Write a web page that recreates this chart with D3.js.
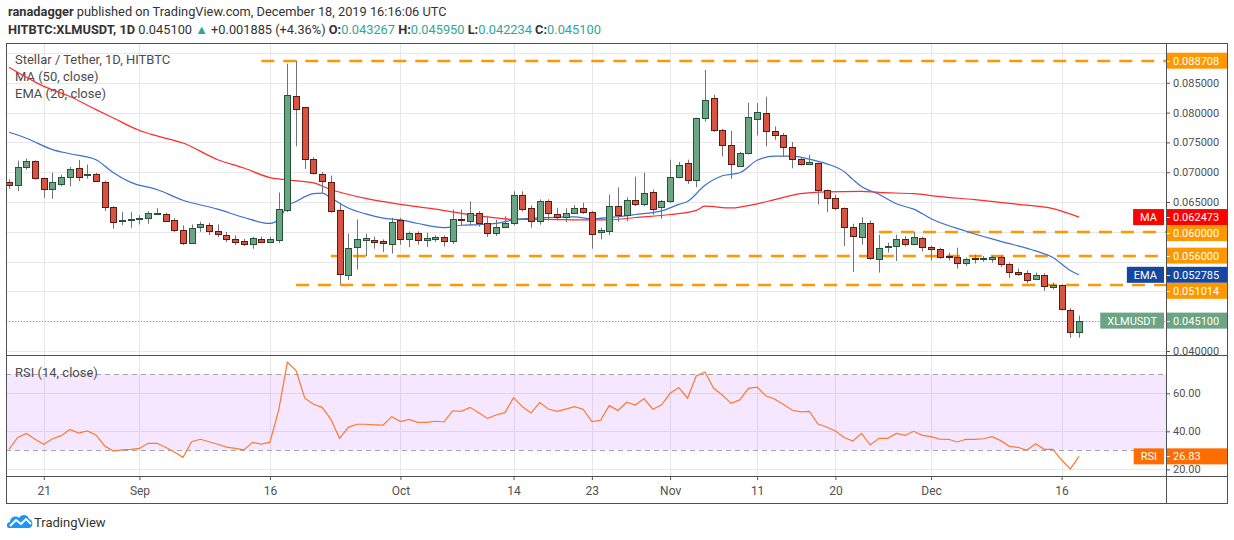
<!DOCTYPE html>
<html>
<head>
<meta charset="utf-8">
<script src="https://cdn.jsdelivr.net/npm/d3@7"></script>
<style>
  body { margin: 0; background: #fff; }
  svg { display: block; font-family: Roboto, "Liberation Sans", sans-serif; }
</style>
</head>
<body>
<div id="chart"></div>
<script>
'use strict';

// daily candles, one per day starting here
var firstDay = "2019-08-17";

var priceOpen = [0.06840, 0.06788, 0.07089, 0.07189, 0.06900, 0.06721, 0.06804, 0.06921, 0.07065, 0.06960,
  0.06972, 0.06838, 0.06420, 0.06190, 0.06210, 0.06210, 0.06236, 0.06310, 0.06303, 0.06203,
  0.06036, 0.05818, 0.06069, 0.06112, 0.06018, 0.05951, 0.05884, 0.05840, 0.05795, 0.05884,
  0.05834, 0.05858, 0.06370, 0.08281, 0.08095, 0.07222, 0.06972, 0.06838, 0.06363, 0.05288,
  0.05734, 0.05851, 0.05868, 0.05840, 0.05801, 0.06203, 0.05885, 0.05985, 0.05862, 0.05868,
  0.05918, 0.05851, 0.06216, 0.06186, 0.06320, 0.06152, 0.05985, 0.06085, 0.06152, 0.06620,
  0.06403, 0.06191, 0.06520, 0.06303, 0.06253, 0.06320, 0.06403, 0.06336, 0.05985, 0.06018,
  0.06441, 0.06286, 0.06537, 0.06470, 0.06671, 0.06420, 0.06513, 0.06921, 0.07156, 0.06871,
  0.07908, 0.08242, 0.07707, 0.07456, 0.07099, 0.07316, 0.07891, 0.07991, 0.07691, 0.07624,
  0.07423, 0.07222, 0.07139, 0.07156, 0.06704, 0.06570, 0.06403, 0.06085, 0.05918, 0.06152,
  0.05550, 0.05734, 0.05756, 0.05885, 0.05801, 0.05901, 0.05751, 0.05717, 0.05590, 0.05584,
  0.05483, 0.05560, 0.05550, 0.05550, 0.05584, 0.05467, 0.05333, 0.05316, 0.05216, 0.05283,
  0.05082, 0.05115, 0.04689, 0.043267];

var priceHigh = [0.06880, 0.07194, 0.07227, 0.07200, 0.06910, 0.06993, 0.06960, 0.07089, 0.07206, 0.07127,
  0.06990, 0.06860, 0.06430, 0.06336, 0.06330, 0.06279, 0.06346, 0.06396, 0.06320, 0.06230,
  0.06107, 0.06124, 0.06170, 0.06150, 0.06124, 0.06000, 0.05940, 0.05880, 0.05918, 0.05920,
  0.05918, 0.06659, 0.08820, 0.08871, 0.08095, 0.07250, 0.07005, 0.06943, 0.06487, 0.05970,
  0.06207, 0.05970, 0.05918, 0.05873, 0.06236, 0.06236, 0.06007, 0.06007, 0.05985, 0.05940,
  0.05940, 0.06375, 0.06375, 0.06510, 0.06347, 0.06250, 0.06200, 0.06260, 0.06680, 0.06680,
  0.06442, 0.06545, 0.06545, 0.06403, 0.06396, 0.06447, 0.06487, 0.06350, 0.06070, 0.06625,
  0.06747, 0.06580, 0.06926, 0.06993, 0.06709, 0.06533, 0.07211, 0.07172, 0.07211, 0.07915,
  0.08716, 0.08298, 0.07729, 0.07696, 0.07344, 0.08164, 0.08159, 0.08269, 0.07768, 0.07657,
  0.07507, 0.07249, 0.07294, 0.07160, 0.06710, 0.06620, 0.06410, 0.06135, 0.06246, 0.06191,
  0.05951, 0.05818, 0.05951, 0.05928, 0.06002, 0.05918, 0.05768, 0.05734, 0.05650, 0.05734,
  0.05567, 0.05617, 0.05594, 0.05600, 0.05600, 0.05483, 0.05383, 0.05353, 0.05316, 0.05304,
  0.05149, 0.05120, 0.04716, 0.045950];

var priceLow = [0.06720, 0.06681, 0.07043, 0.06876, 0.06570, 0.06553, 0.06764, 0.06764, 0.06848, 0.06893,
  0.06850, 0.06346, 0.06052, 0.06112, 0.06068, 0.06124, 0.06135, 0.06300, 0.06170, 0.05995,
  0.05778, 0.05802, 0.06000, 0.05945, 0.05911, 0.05828, 0.05778, 0.05762, 0.05715, 0.05810,
  0.05810, 0.05810, 0.06330, 0.07433, 0.07055, 0.06960, 0.06654, 0.06320, 0.05120, 0.05192,
  0.05366, 0.05594, 0.05717, 0.05660, 0.05634, 0.05784, 0.05744, 0.05784, 0.05744, 0.05830,
  0.05751, 0.05795, 0.06107, 0.06107, 0.06085, 0.05911, 0.05930, 0.06062, 0.06107, 0.06341,
  0.06069, 0.06119, 0.06191, 0.06191, 0.06162, 0.06313, 0.06300, 0.05717, 0.05873, 0.05945,
  0.06169, 0.06179, 0.06430, 0.06430, 0.06286, 0.06219, 0.06487, 0.06898, 0.06804, 0.06747,
  0.07851, 0.07674, 0.07266, 0.06888, 0.07090, 0.07299, 0.07617, 0.07433, 0.07545, 0.07266,
  0.07065, 0.07110, 0.07120, 0.06458, 0.06329, 0.06363, 0.05761, 0.05326, 0.05784, 0.05527,
  0.05316, 0.05651, 0.05510, 0.05751, 0.05773, 0.05667, 0.05517, 0.05550, 0.05517, 0.05383,
  0.05427, 0.05467, 0.05500, 0.05483, 0.05410, 0.05226, 0.05260, 0.05137, 0.05192, 0.05008,
  0.05032, 0.04682, 0.04221, 0.042234];

var priceClose = [0.06790, 0.07089, 0.07189, 0.06905, 0.06721, 0.06838, 0.06921, 0.07055, 0.06921, 0.06975,
  0.06855, 0.06420, 0.06169, 0.06205, 0.06222, 0.06230, 0.06313, 0.06320, 0.06186, 0.06036,
  0.05818, 0.06069, 0.06124, 0.06012, 0.05968, 0.05884, 0.05828, 0.05790, 0.05895, 0.05828,
  0.05878, 0.06386, 0.08298, 0.08069, 0.07222, 0.06988, 0.06860, 0.06346, 0.05288, 0.05734,
  0.05873, 0.05890, 0.05834, 0.05801, 0.06169, 0.05885, 0.05985, 0.05868, 0.05890, 0.05907,
  0.05851, 0.06220, 0.06196, 0.06320, 0.06152, 0.05985, 0.06085, 0.06152, 0.06620, 0.06386,
  0.06191, 0.06520, 0.06320, 0.06253, 0.06320, 0.06403, 0.06336, 0.05968, 0.06024, 0.06441,
  0.06286, 0.06537, 0.06463, 0.06654, 0.06386, 0.06520, 0.06921, 0.07122, 0.06871, 0.07908,
  0.08209, 0.07707, 0.07456, 0.07139, 0.07323, 0.07925, 0.08008, 0.07684, 0.07617, 0.07423,
  0.07222, 0.07139, 0.07172, 0.06704, 0.06570, 0.06403, 0.06085, 0.05935, 0.06152, 0.05567,
  0.05734, 0.05756, 0.05873, 0.05801, 0.05918, 0.05751, 0.05717, 0.05584, 0.05584, 0.05483,
  0.05550, 0.05545, 0.05556, 0.05584, 0.05467, 0.05333, 0.05299, 0.05199, 0.05283, 0.05099,
  0.05115, 0.04714, 0.04321, 0.045100];

// MA(50) and EMA(20) at these candle numbers
var maDay = [0, 4, 7, 10, 12, 15, 17, 20, 24, 27, 30, 32, 35, 37, 41, 45, 49, 52, 55, 58, 62, 66, 69, 72,
  76, 79, 80, 83, 86, 88, 91, 94, 98, 100, 104, 107, 111, 116, 120, 123];
var maValue = [0.0876, 0.0844, 0.0827, 0.0805, 0.0791, 0.0770, 0.0761, 0.0749, 0.0721, 0.0707, 0.0691,
  0.0687, 0.0682, 0.0671, 0.0656, 0.0646, 0.0638, 0.0631, 0.0625, 0.0621, 0.0621, 0.0620, 0.0620,
  0.0624, 0.0629, 0.0636, 0.0643, 0.0640, 0.0647, 0.0654, 0.0664, 0.0667, 0.0668, 0.0666, 0.0664,
  0.0659, 0.0654, 0.0646, 0.0639, 0.062473];

var emaDay = [0, 2, 5, 7, 10, 12, 14, 17, 20, 24, 27, 30, 31, 32, 33, 35, 36, 37, 39, 41, 43, 45, 47, 50,
  52, 54, 56, 58, 62, 65, 67, 69, 72, 75, 77, 78, 80, 82, 84, 86, 88, 90, 92, 94, 96, 97, 98, 100,
  102, 104, 106, 110, 114, 118, 120, 122, 123];
var emaValue = [0.0767, 0.0757, 0.0738, 0.0731, 0.0721, 0.0699, 0.0683, 0.0671, 0.0653, 0.0638, 0.0624,
  0.0614, 0.0621, 0.0643, 0.0651, 0.0664, 0.0665, 0.0657, 0.0640, 0.0630, 0.0623, 0.0620, 0.0614,
  0.0607, 0.0611, 0.0612, 0.0614, 0.0620, 0.0624, 0.0625, 0.0622, 0.0624, 0.0629, 0.0635, 0.0646,
  0.0651, 0.0678, 0.0694, 0.0699, 0.0720, 0.0727, 0.0727, 0.0722, 0.0714, 0.0701, 0.0688, 0.0676,
  0.0663, 0.0647, 0.0638, 0.0622, 0.0601, 0.0584, 0.0568, 0.0557, 0.0535, 0.052785];

var rsiValue = [30.5, 36.8, 38.9, 35.8, 33.2, 36.1, 37.7, 41.0, 39.1, 40.2,
  38.1, 32.3, 29.6, 30.2, 30.5, 31.0, 33.7, 33.7, 31.6, 29.1,
  26.3, 34.5, 35.8, 34.5, 33.2, 31.7, 31.0, 30.2, 34.2, 33.3,
  34.3, 51.2, 76.3, 71.9, 57.4, 54.2, 52.6, 46.3, 36.3, 42.1,
  43.7, 43.7, 43.4, 43.2, 47.7, 45.1, 46.3, 44.7, 44.7, 45.3,
  44.9, 50.8, 50.5, 52.6, 49.8, 46.8, 48.6, 49.8, 57.7, 53.0,
  49.6, 55.1, 51.7, 50.5, 51.7, 53.0, 51.6, 45.1, 45.8, 53.5,
  51.0, 55.3, 53.8, 57.2, 51.6, 53.8, 60.0, 63.0, 57.4, 69.1,
  71.2, 62.6, 59.1, 54.7, 56.5, 62.6, 63.2, 58.7, 57.0, 54.2,
  51.2, 50.2, 50.5, 43.8, 42.3, 40.2, 36.7, 34.9, 38.9, 32.8,
  36.3, 36.3, 38.9, 37.9, 40.0, 37.9, 37.2, 35.9, 35.8, 34.4,
  35.8, 35.8, 36.1, 37.2, 35.1, 32.1, 31.6, 30.0, 33.5, 30.5,
  30.5, 24.9, 20.2, 26.83];

// support / resistance lines drawn by the author
var levelValue = [0.088708, 0.060000, 0.056000, 0.051014];
var levelStart = ["2019-09-15", "2019-11-25", "2019-09-23", "2019-09-19"];

var tickDays = ["2019-08-21", "2019-09-01", "2019-09-16", "2019-10-01", "2019-10-14", "2019-10-23",
  "2019-11-01", "2019-11-11", "2019-11-20", "2019-12-01", "2019-12-16"];
var priceTicks = [0.040, 0.045, 0.050, 0.055, 0.060, 0.065, 0.070, 0.075, 0.080, 0.085, 0.090];
var rsiTicks = [20, 40, 60];
var rsiBand = [30, 70];


var w = 1234;
var h = 540;
var paneLeft = 6;
var paneTop = 43;
var axisX = 1166;
var outerRight = 1227;
var mainBottom = 355;
var rsiTop = 356;
var rsiBottom = 476;
var frameBottom = 503;

var upFill = "#6ba583", upLine = "#225437";
var downFill = "#d75442", downLine = "#5b1a13";
var teal = "#2fa69a";
var orange = "#ff9800";

var parse = d3.utcParse("%Y-%m-%d");
var startDay = parse(firstDay);
var days = d3.utcDay.range(startDay, d3.utcDay.offset(startDay, priceClose.length));

var candles = days.map(function (d, i) {
  return {date: d, o: priceOpen[i], h: priceHigh[i], l: priceLow[i], c: priceClose[i]};
});

var x = d3.scaleUtc()
  .domain([days[0], days[days.length - 1]])
  .range([9, 1079]);
var y = d3.scaleLinear()
  .domain([0.03933, 0.09168])
  .range([mainBottom, paneTop]);
var yr = d3.scaleLinear()
  .domain([16.5, 79.6])
  .range([rsiBottom, rsiTop]);

var svg = d3.select("#chart").append("svg")
  .attr("width", w)
  .attr("height", h);

svg.append("rect").attr("width", w).attr("height", h).attr("fill", "#fff");

var defs = svg.append("defs");
defs.append("clipPath").attr("id", "clipMain").append("rect")
  .attr("x", paneLeft).attr("y", paneTop).attr("width", axisX - paneLeft).attr("height", mainBottom - paneTop);
defs.append("clipPath").attr("id", "clipRsi").append("rect")
  .attr("x", paneLeft).attr("y", rsiTop).attr("width", axisX - paneLeft).attr("height", rsiBottom - rsiTop);

// header
var header = svg.append("g").attr("fill", "#333").style("font-size", "12.8px");
var h1 = header.append("text").attr("x", 8).attr("y", 16);
h1.append("tspan").attr("font-weight", "bold").text("ranadagger");
h1.append("tspan").text(" published on TradingView.com, December 18, 2019 16:16:06 UTC");

var h2 = header.append("text").attr("x", 8).attr("y", 34);
h2.append("tspan").attr("font-weight", "bold").text("HITBTC:XLMUSDT, 1D");
h2.append("tspan").text(" 0.045100 ");
h2.append("tspan").attr("fill", teal).text("▲");
h2.append("tspan").text(" +0.001885 (+4.36%) ");
[["O:", "0.043267"], ["H:", "0.045950"], ["L:", "0.042234"], ["C:", "0.045100"]].forEach(function (p, i) {
  h2.append("tspan").attr("font-weight", "bold").text((i ? " " : "") + p[0]);
  h2.append("tspan").attr("fill", teal).text(p[1]);
});

// grid
var grid = svg.append("g").attr("stroke", "#e8e8e8").attr("stroke-width", 1);
tickDays.forEach(function (t) {
  var gx = Math.round(x(parse(t))) + 0.5;
  grid.append("line").attr("x1", gx).attr("x2", gx).attr("y1", paneTop).attr("y2", mainBottom);
  grid.append("line").attr("x1", gx).attr("x2", gx).attr("y1", rsiTop).attr("y2", rsiBottom);
});
priceTicks.forEach(function (p) {
  var gy = Math.round(y(p)) + 0.5;
  grid.append("line").attr("x1", paneLeft).attr("x2", axisX).attr("y1", gy).attr("y2", gy);
});
rsiTicks.forEach(function (r) {
  var gy = Math.round(yr(r)) + 0.5;
  grid.append("line").attr("x1", paneLeft).attr("x2", axisX).attr("y1", gy).attr("y2", gy);
});

// rsi band
svg.append("rect")
  .attr("x", paneLeft).attr("width", axisX - paneLeft)
  .attr("y", yr(rsiBand[1])).attr("height", yr(rsiBand[0]) - yr(rsiBand[1]))
  .attr("fill", "rgba(153,21,255,0.1)");
rsiBand.forEach(function (r) {
  var gy = Math.round(yr(r)) + 0.5;
  svg.append("line").attr("x1", paneLeft).attr("x2", axisX).attr("y1", gy).attr("y2", gy)
    .attr("stroke", "#a7a3ab").attr("stroke-dasharray", "5,4");
});

var main = svg.append("g").attr("clip-path", "url(#clipMain)");

// legend (drawn under the lines like TV does)
var legend = main.append("g").attr("fill", "#4c4c4c").style("font-size", "13px");
legend.append("text").attr("x", 15).attr("y", 64).text("Stellar / Tether, 1D, HITBTC");
legend.append("text").attr("x", 15).attr("y", 81).text("MA (50, close)");
legend.append("text").attr("x", 15).attr("y", 98).text("EMA (20, close)");

var lastClose = priceClose[priceClose.length - 1];

// last price dotted line
main.append("line")
  .attr("x1", paneLeft).attr("x2", axisX)
  .attr("y1", Math.round(y(lastClose)) + 0.5)
  .attr("y2", Math.round(y(lastClose)) + 0.5)
  .attr("stroke", upFill).attr("stroke-dasharray", "1,2");

// level lines
levelValue.forEach(function (v, i) {
  var ly = Math.round(y(v));
  main.append("line")
    .attr("x1", x(parse(levelStart[i]))).attr("x2", axisX)
    .attr("y1", ly).attr("y2", ly)
    .attr("stroke", orange).attr("stroke-width", 2.5)
    .attr("stroke-dasharray", "13,9");
});

var line = d3.line()
  .x(function (d) { return x(d[0]); })
  .y(function (d) { return y(d[1]); })
  .curve(d3.curveMonotoneX);

main.append("path")
  .datum(maDay.map(function (d, i) { return [days[d], maValue[i]]; }))
  .attr("d", line)
  .attr("fill", "none").attr("stroke", "#ff2b2b").attr("stroke-width", 1.2);

main.append("path")
  .datum(emaDay.map(function (d, i) { return [days[d], emaValue[i]]; }))
  .attr("d", line)
  .attr("fill", "none").attr("stroke", "#3c6fd0").attr("stroke-width", 1.2);

// candles
var candle = main.selectAll("g.candle")
  .data(candles)
  .enter()
  .append("g")
  .attr("class", "candle");

candle.append("line")
  .attr("x1", function (d) { return Math.round(x(d.date)) + 0.5; })
  .attr("x2", function (d) { return Math.round(x(d.date)) + 0.5; })
  .attr("y1", function (d) { return y(d.h); })
  .attr("y2", function (d) { return y(d.l); })
  .attr("stroke", "#737375");

candle.append("rect")
  .attr("x", function (d) { return Math.round(x(d.date)) - 2.5; })
  .attr("y", function (d) { return Math.round(y(Math.max(d.o, d.c))) + 0.5; })
  .attr("width", 6)
  .attr("height", function (d) {
    return Math.max(1, Math.round(Math.abs(y(d.o) - y(d.c))));
  })
  .attr("fill", function (d) { return d.c >= d.o ? upFill : downFill; })
  .attr("stroke", function (d) { return d.c >= d.o ? upLine : downLine; });

// rsi
var rsiPane = svg.append("g").attr("clip-path", "url(#clipRsi)");
rsiPane.append("text").attr("x", 15).attr("y", 377)
  .attr("fill", "#4c4c4c").style("font-size", "13px").text("RSI (14, close)");
rsiPane.append("path")
  .datum(rsiValue)
  .attr("d", d3.line()
    .x(function (d, i) { return x(days[i]); })
    .y(function (d) { return yr(d); }))
  .attr("fill", "none").attr("stroke", "#ff7a2f").attr("stroke-width", 1.2);

// price tags on the axis, pushed down when they collide
var tags = levelValue.map(function (v) {
  return {v: v, color: orange};
});
tags.push({v: maValue[maValue.length - 1], color: "#ff0000", name: "MA"});
tags.push({v: emaValue[emaValue.length - 1], color: "#1547a0", name: "EMA"});
tags.push({v: lastClose, color: upFill, name: "XLMUSDT"});
tags.forEach(function (t) { t.y = y(t.v); });
tags.sort(function (a, b) { return a.y - b.y; });
var tagH = 16;
for (var i = 1; i < tags.length; i++) {
  if (tags[i].y - tagH / 2 < tags[i - 1].y + tagH / 2) {
    tags[i].y = tags[i - 1].y + tagH;
  }
}

// tick labels that sit right under a tag are not readable in the original
var shownTicks = priceTicks.filter(function (p) {
  return !tags.some(function (t) { return Math.abs(t.y - y(p)) < tagH / 2 + 2; });
});

// axes
var priceAxis = svg.append("g")
  .attr("transform", "translate(" + axisX + ",0)")
  .call(d3.axisRight(y).tickValues(shownTicks).tickSize(4).tickPadding(3)
    .tickFormat(d3.format(".6f")));
var rsiAxis = svg.append("g")
  .attr("transform", "translate(" + axisX + ",0)")
  .call(d3.axisRight(yr).tickValues(rsiTicks).tickSize(4).tickPadding(3)
    .tickFormat(d3.format(".2f")));
var timeAxis = svg.append("g")
  .attr("transform", "translate(0," + rsiBottom + ")")
  .call(d3.axisBottom(x).tickValues(tickDays.map(parse)).tickSize(4).tickPadding(6)
    .tickFormat(function (d) {
      return d.getUTCDate() === 1 ? d3.utcFormat("%b")(d) : d.getUTCDate();
    }));

[priceAxis, rsiAxis, timeAxis].forEach(function (a) {
  a.select(".domain").remove();
  a.selectAll(".tick line").attr("stroke", "#555");
  a.selectAll(".tick text").attr("fill", "#4f4f4f")
    .style("font-size", "11px").style("font-family", "Roboto, 'Liberation Sans', sans-serif");
});
timeAxis.selectAll(".tick text").style("font-size", "12px");

function drawTag(t, fmt) {
  var g = svg.append("g");
  g.append("rect")
    .attr("x", axisX).attr("y", t.y - tagH / 2)
    .attr("width", outerRight - axisX).attr("height", tagH)
    .attr("fill", t.color);
  g.append("line")
    .attr("x1", axisX).attr("x2", axisX + 4)
    .attr("y1", Math.round(t.y) + 0.5).attr("y2", Math.round(t.y) + 0.5)
    .attr("stroke", "#fff");
  g.append("text")
    .attr("x", axisX + 7).attr("y", t.y + 4)
    .attr("fill", "#fff").style("font-size", "11px")
    .text(fmt(t.v));
  if (t.name) {
    var label = g.append("text")
      .attr("y", t.y + 4)
      .attr("fill", "#fff").style("font-size", "11px")
      .text(t.name);
    var tw = label.node().getComputedTextLength();
    var bw = tw + 14;
    g.insert("rect", "text")
      .attr("x", axisX - 2 - bw).attr("y", t.y - tagH / 2)
      .attr("width", bw).attr("height", tagH)
      .attr("fill", t.color);
    label.attr("x", axisX - 2 - bw + 7);
  }
}

tags.forEach(function (t) { drawTag(t, d3.format(".6f")); });
var lastRsi = rsiValue[rsiValue.length - 1];
drawTag({v: lastRsi, y: yr(lastRsi), color: "#ff6d00", name: "RSI"}, d3.format(".2f"));

// frame
var frame = svg.append("g").attr("stroke", "#505050").attr("fill", "none");
frame.append("rect")
  .attr("x", paneLeft + 0.5).attr("y", paneTop + 0.5)
  .attr("width", outerRight - paneLeft).attr("height", frameBottom - paneTop);
frame.append("line").attr("x1", axisX + 0.5).attr("x2", axisX + 0.5).attr("y1", paneTop).attr("y2", frameBottom);
frame.append("line").attr("x1", paneLeft).attr("x2", outerRight).attr("y1", mainBottom + 0.5).attr("y2", mainBottom + 0.5);
frame.append("line").attr("x1", paneLeft).attr("x2", outerRight).attr("y1", rsiBottom + 0.5).attr("y2", rsiBottom + 0.5);

// TradingView logo
var logo = svg.append("g").attr("transform", "translate(7,513)");
logo.append("path")
  .attr("d", "M2,15 C-1,15 -1,9 3,9 C3,4 9,2 12,5 C14,1 21,1 22,6 C26,6 27,15 22,15 Z")
  .attr("fill", "#2196f3");
logo.append("polyline")
  .attr("points", "3,13 9,7 14,11 19,6 24,11")
  .attr("fill", "none").attr("stroke", "#fff").attr("stroke-width", 1.8);
svg.append("text").attr("x", 34).attr("y", 527)
  .attr("fill", "#333").style("font-size", "13px").text("TradingView");
</script>
</body>
</html>
